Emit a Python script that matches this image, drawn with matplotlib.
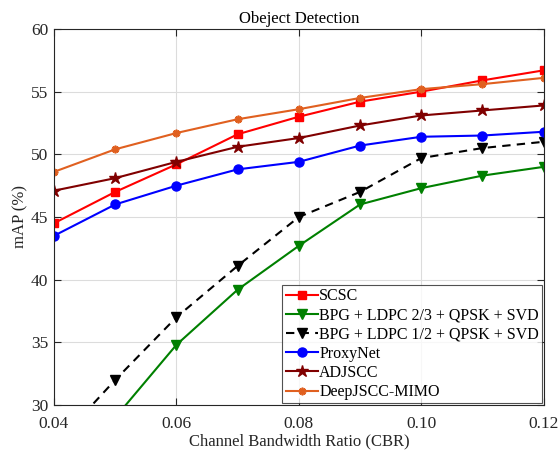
import numpy as np
import matplotlib
matplotlib.use("Agg")
import matplotlib.pyplot as plt

plt.rcParams['font.family'] = ['Liberation Serif', 'DejaVu Serif']
plt.rcParams['mathtext.fontset'] = 'stix'

cbr = [0.04, 0.05, 0.06, 0.07, 0.08, 0.09, 0.10, 0.11, 0.12]

scsc = [44.5, 47.0, 49.2, 51.6, 53.0, 54.2, 55.0, 55.9, 56.7]
bpg_23 = [23.5, 29.0, 34.8, 39.2, 42.7, 46.0, 47.3, 48.3, 49.0]
bpg_12 = [26.7, 32.0, 37.0, 41.1, 45.0, 47.0, 49.7, 50.5, 51.0]
proxynet = [43.5, 46.0, 47.5, 48.8, 49.4, 50.7, 51.4, 51.5, 51.8]
adjscc = [47.1, 48.1, 49.4, 50.6, 51.3, 52.3, 53.1, 53.5, 53.9]
deepjscc_mimo = [48.6, 50.4, 51.7, 52.8, 53.6, 54.5, 55.2, 55.6, 56.1]

labels = ['SCSC', 'BPG + LDPC 2/3 + QPSK + SVD', 'BPG + LDPC 1/2 + QPSK + SVD',
          'ProxyNet', 'ADJSCC', 'DeepJSCC-MIMO']

fig = plt.figure(figsize=(5.59, 4.53), dpi=100)
ax = fig.add_axes([0.0966, 0.106, 0.876, 0.830])

ax.plot(cbr, scsc, color='#ff0000', marker='s', ms=5.5, lw=1.5, label=labels[0])
ax.plot(cbr, bpg_23, color='#008000', marker='v', ms=6.5, lw=1.5, label=labels[1])
ax.plot(cbr, bpg_12, color='black', marker='v', ms=7, lw=1.5, ls=(0, (4, 3)), label=labels[2])
ax.plot(cbr, proxynet, color='#0000ff', marker='o', ms=6.5, lw=1.5, label=labels[3])
ax.plot(cbr, adjscc, color='#800000', marker='*', ms=9, lw=1.5, label=labels[4])
ax.plot(cbr, deepjscc_mimo, color='#e06020', marker=(8, 2, 0), ms=5.5, mew=1.3, lw=1.5,
        label=labels[5])

ax.set_xlim(0.04, 0.12)
ax.set_ylim(30, 60)
ax.set_xticks([0.04, 0.06, 0.08, 0.10, 0.12])
ax.set_xticklabels(['0.04', '0.06', '0.08', '0.10', '0.12'])
ax.set_yticks([30, 35, 40, 45, 50, 55, 60])
ax.grid(True, color='#dcdcdc', lw=0.8)
ax.set_axisbelow(True)
ax.tick_params(direction='in', top=True, right=True, labelsize=12.5, colors='#262626',
               length=5)
ax.tick_params(axis='x', pad=8)
ax.tick_params(axis='y', pad=4)
for s in ax.spines.values():
    s.set_color('#262626')
    s.set_linewidth(0.8)

ax.set_xlabel('Channel Bandwidth Ratio (CBR)', fontsize=12, color='#262626', labelpad=1)
ax.set_ylabel('mAP (%)', fontsize=12, color='#262626', labelpad=2)
ax.set_title('Obeject Detection', fontsize=12, pad=4)

leg = ax.legend(loc='lower right', fontsize=11.5, frameon=True, fancybox=False,
                edgecolor='#262626', borderaxespad=0.1, handlelength=2.0,
                handletextpad=0.1, labelspacing=0.2, borderpad=0.2)
leg.get_frame().set_linewidth(0.8)

fig.savefig('out.png', dpi=100)
